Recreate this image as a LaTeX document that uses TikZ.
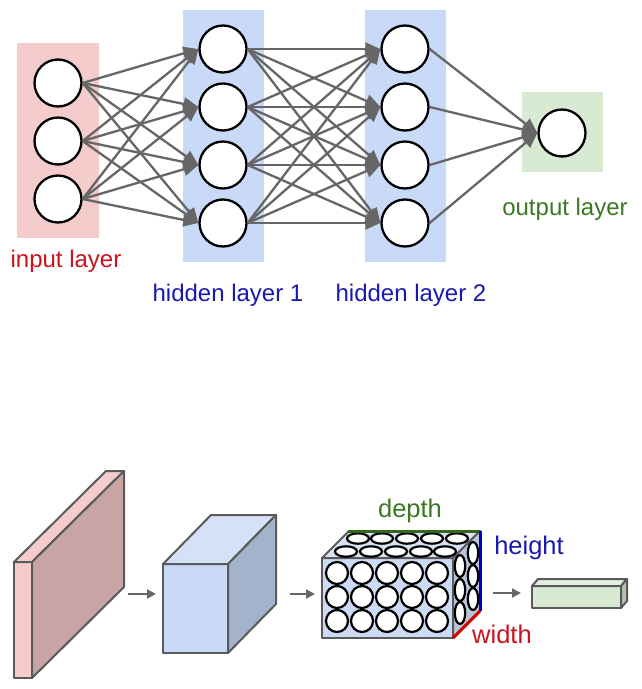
\documentclass[tikz,border=0pt]{standalone}
\usepackage{fontspec}
\setmainfont{Liberation Sans}
\usetikzlibrary{arrows.meta}
\definecolor{lpink}{HTML}{F4CCCC}
\definecolor{lblue}{HTML}{C9DAF8}
\definecolor{lgreen}{HTML}{D9EAD3}
\definecolor{edgegray}{HTML}{666666}
\definecolor{boxline}{HTML}{5A5A5A}
\definecolor{txtred}{RGB}{200,20,30}
\definecolor{txtblue}{RGB}{25,25,175}
\definecolor{txtgreen}{RGB}{60,120,35}
\definecolor{slabside}{HTML}{C8A4A4}
\definecolor{cubetop}{HTML}{D4E1F6}
\definecolor{cubeside}{HTML}{A4B3CC}
\definecolor{volfront}{HTML}{CCDBF4}
\definecolor{voltop}{HTML}{D8E2F2}
\definecolor{volside}{HTML}{BAC6D8}
\definecolor{gtop}{HTML}{E3EFDE}
\definecolor{gside}{HTML}{B4C4AF}
\begin{document}
\begin{tikzpicture}[x=1pt,y=-1pt,
  neuron/.style={circle,draw=black,line width=2.3pt,fill=white,minimum size=47pt,inner sep=0pt},
  conn/.style={draw=edgegray,line width=2.3pt,-{Triangle[length=15pt,width=13pt]}},
  lbl/.style={font=\fontsize{24pt}{28pt}\selectfont,inner sep=0pt},
  blbl/.style={font=\fontsize{25.5pt}{30pt}\selectfont,inner sep=0pt},
  face/.style={draw=boxline,line width=2pt,line join=round},
  dot/.style={draw=black,line width=2.2pt,fill=white},
  smallarrow/.style={draw=edgegray,line width=2pt,-{Triangle[length=9pt,width=9pt]}}
]
\useasboundingbox (0,0) rectangle (642,689);
\fill[white] (0,0) rectangle (642,689);

% ---------- top: fully connected network ----------
\fill[lpink] (17,43) rectangle (99,238);
\fill[lblue] (183,10) rectangle (264,262);
\fill[lblue] (365,10) rectangle (446,262);
\fill[lgreen] (522,92) rectangle (603,172);

\foreach \k/\y in {1/83,2/141,3/199} \node[neuron] (i\k) at (58,\y) {};
\foreach \k/\y in {1/49,2/107,3/165,4/223} \node[neuron] (a\k) at (223,\y) {};
\foreach \k/\y in {1/49,2/107,3/165,4/223} \node[neuron] (b\k) at (405,\y) {};
\node[neuron] (o) at (562,133) {};

\foreach \s in {1,2,3} \foreach \t in {1,2,3,4} \draw[conn] (i\s.east) -- (a\t.west);
\foreach \s in {1,2,3,4} \foreach \t in {1,2,3,4} \draw[conn] (a\s.east) -- (b\t.west);
\foreach \s in {1,2,3,4} \draw[conn] (b\s.east) -- (o.west);

\node[lbl,text=txtred] (tin) at (66,261) {input layer};
\node[lbl,text=txtblue] (th1) at (228,295) {hidden layer 1};
\node[lbl,text=txtblue] (th2) at (411,295) {hidden layer 2};
\node[lbl,text=txtgreen] (tout) at (565,209) {output layer};

% ---------- bottom: volumes ----------
% pink slab
\filldraw[face,fill=lpink] (14,562) rectangle (32,678);
\filldraw[face,fill=lpink] (14,562) -- (32,562) -- (124,471) -- (106,471) -- cycle;
\filldraw[face,fill=slabside] (32,562) -- (124,471) -- (124,587) -- (32,678) -- cycle;

% blue cube
\filldraw[face,fill=lblue] (163,564) rectangle (228,653);
\filldraw[face,fill=cubetop] (163,564) -- (228,564) -- (276,515) -- (211,515) -- cycle;
\filldraw[face,fill=cubeside] (228,564) -- (276,515) -- (276,604) -- (228,653) -- cycle;

% volume of neurons
\filldraw[face,fill=volfront] (322,558) rectangle (453,638);
\filldraw[face,fill=voltop] (322,558) -- (453,558) -- (480,531) -- (349,531) -- cycle;
\filldraw[face,fill=volside] (453,558) -- (480,531) -- (480,611) -- (453,638) -- cycle;
\foreach \x in {337,362,387,412,437} \foreach \y in {573,597,621}
  \draw[dot] (\x,\y) circle[radius=11pt];
\foreach \x in {346,371,396,421,445} \draw[dot] (\x,551.5) ellipse[x radius=11pt,y radius=5.2pt];
\foreach \x in {358,382,407,432,457} \draw[dot] (\x,538.5) ellipse[x radius=11pt,y radius=5.2pt];
\foreach \y in {566,590,613} \draw[dot] (460,\y) ellipse[x radius=5.2pt,y radius=11pt];
\foreach \y in {553,576,599} \draw[dot] (473,\y) ellipse[x radius=5.2pt,y radius=11pt];
\coordinate (dA) at (348,531);
\coordinate (dB) at (480,531);
\coordinate (hB) at (480,611);
\coordinate (wA) at (453,638);
\draw[txtgreen!85!black,line width=3pt] (dA) -- (dB);
\draw[blue!80!black,line width=3pt] (dB) -- (hB);
\draw[red!85!black,line width=3pt] (hB) -- (wA);
\node[blbl,text=txtgreen] (tdepth) at (410,511) {depth};
\node[blbl,text=txtblue] (theight) at (529,548) {height};
\node[blbl,text=txtred] (twidth) at (502,634) {width};

% green output volume
\filldraw[face,fill=lgreen] (532,586) rectangle (621,608);
\filldraw[face,fill=gtop] (532,586) -- (621,586) -- (627,579) -- (538,579) -- cycle;
\filldraw[face,fill=gside] (621,586) -- (627,579) -- (627,601) -- (621,608) -- cycle;

% small arrows
\coordinate (s1) at (128,594); \coordinate (e1) at (156,594);
\coordinate (s2) at (290,594); \coordinate (e2) at (315,594);
\coordinate (s3) at (493,593); \coordinate (e3) at (521,593);
\draw[smallarrow] (s1) -- (e1);
\draw[smallarrow] (s2) -- (e2);
\draw[smallarrow] (s3) -- (e3);
\end{tikzpicture}
\end{document}
